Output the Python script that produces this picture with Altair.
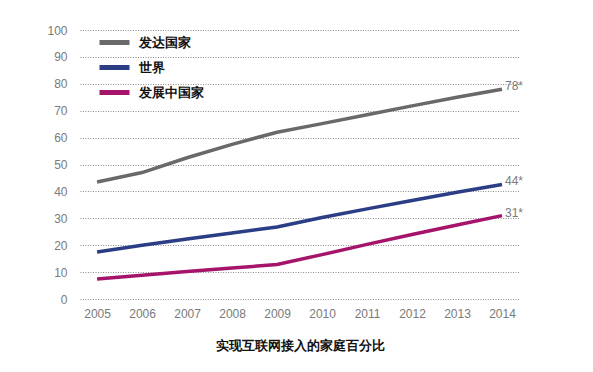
import altair as alt
import pandas as pd

years = [2005, 2006, 2007, 2008, 2009, 2010, 2011, 2012, 2013, 2014]
series_names = ["发达国家", "世界", "发展中国家"]
developed = [43.5, 47.0, 52.5, 57.5, 62.0, 65.2, 68.5, 71.8, 75.0, 78.0]
world = [17.5, 20.0, 22.3, 24.5, 26.8, 30.3, 33.5, 36.6, 39.7, 42.6]
developing = [7.4, 8.8, 10.2, 11.5, 12.8, 16.5, 20.3, 24.0, 27.5, 31.0]
end_labels = ["78*", "44*", "31*"]
colors = ["#696969", "#2a3d85", "#a5146a"]
title_text = "实现互联网接入的家庭百分比"

rows = []
for name, vals, lab in zip(series_names, [developed, world, developing], end_labels):
    for y, v in zip(years, vals):
        rows.append({"year": y, "value": v, "series": name, "label": lab})
df = pd.DataFrame(rows)

FONT = "Liberation Sans"

x = alt.X("year:Q",
          scale=alt.Scale(domain=[2004.62, 2014.4], nice=False, zero=False),
          axis=alt.Axis(values=years, format="d", grid=False, domain=False, ticks=False,
                        labelColor="#7a7a7a", labelFontSize=12, labelFont=FONT,
                        labelPadding=9, title=None, labelFlush=False, labelOverlap=False))
y = alt.Y("value:Q",
          scale=alt.Scale(domain=[0, 100], nice=False),
          axis=alt.Axis(values=list(range(0, 101, 10)), grid=True, gridDash=[1, 1.5],
                        gridColor="#8c8c8c", gridWidth=1, domain=False, ticks=False,
                        labelColor="#7a7a7a", labelFontSize=12, labelFont=FONT,
                        labelPadding=13, title=None, labelOverlap=False))
color = alt.Color("series:N",
                  scale=alt.Scale(domain=series_names, range=colors),
                  legend=alt.Legend(title=None, orient="none", legendX=17, legendY=0,
                                    symbolType="stroke", symbolSize=900,
                                    symbolStrokeWidth=5, rowPadding=0, clipHeight=25,
                                    labelFontSize=13, labelFontWeight="bold",
                                    labelColor="#111111", labelFont=FONT,
                                    labelOffset=7))

lines = alt.Chart(df).mark_line(strokeWidth=3.5).encode(x=x, y=y, color=color)

ends = alt.Chart(df).transform_filter(alt.datum.year == 2014).mark_text(
    align="left", baseline="middle", dx=3, dy=-3, fontSize=12, font=FONT, color="#7a7a7a"
).encode(x=x, y=y, text="label:N")

chart = alt.layer(lines, ends).properties(
    width=440, height=269,
    title=alt.TitleParams(title_text, orient="bottom", anchor="middle", fontSize=13,
                          fontWeight="bold", color="#111111", font=FONT, offset=21),
    autosize=alt.AutoSizeParams(type="none"),
    padding={"left": 72, "top": 22, "right": 65, "bottom": 64},
).configure_view(stroke=None)

chart.save("out.html", embed_options={"renderer": "svg", "actions": False})
